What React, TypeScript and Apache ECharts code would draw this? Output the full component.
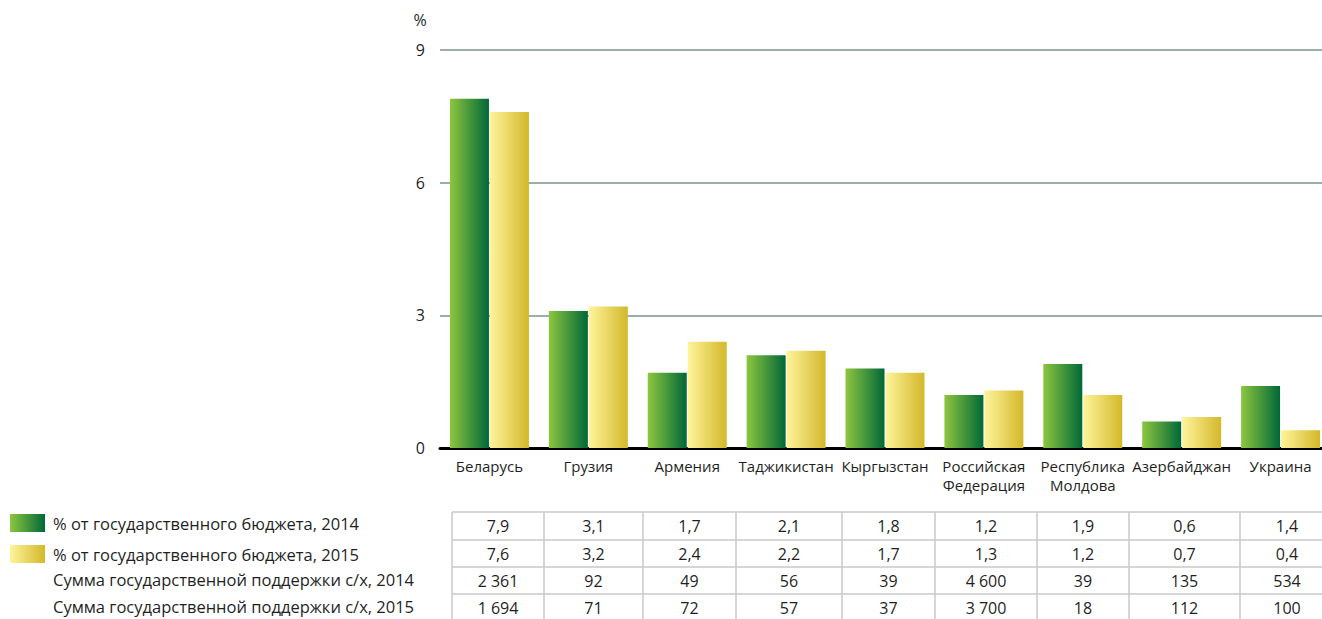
import React, { useEffect, useRef } from "react";
import * as echarts from "echarts";

const countries = [
  "Беларусь",
  "Грузия",
  "Армения",
  "Таджикистан",
  "Кыргызстан",
  "Российская\nФедерация",
  "Республика\nМолдова",
  "Азербайджан",
  "Украина",
];
const pct2014 = [7.9, 3.1, 1.7, 2.1, 1.8, 1.2, 1.9, 0.6, 1.4];
const pct2015 = [7.6, 3.2, 2.4, 2.2, 1.7, 1.3, 1.2, 0.7, 0.4];
const sum2014 = [2361, 92, 49, 56, 39, 4600, 39, 135, 534];
const sum2015 = [1694, 71, 72, 57, 37, 3700, 18, 112, 100];
const yTicks = [0, 3, 6, 9];

const name2014 = "% от государственного бюджета, 2014";
const name2015 = "% от государственного бюджета, 2015";
const nameSum2014 = "Сумма государственной поддержки с/х, 2014";
const nameSum2015 = "Сумма государственной поддержки с/х, 2015";

const FONT = "'Open Sans', 'Noto Sans', sans-serif";
const FS = 16;
const FS_LEG = 16.5;
const FS_X = 15;
const TXT = "#1f1f1f";

const fmtPct = (v: number) => v.toFixed(1).replace(".", ",");
const fmtSum = (v: number) => String(v).replace(/\B(?=(\d{3})+(?!\d))/g, " ");

const greenGrad = {
  type: "linear",
  x: 0,
  y: 0,
  x2: 1,
  y2: 0,
  colorStops: [
    { offset: 0, color: "#8dc63f" },
    { offset: 1, color: "#006838" },
  ],
};
const yellowGrad = {
  type: "linear",
  x: 0,
  y: 0,
  x2: 1,
  y2: 0,
  colorStops: [
    { offset: 0, color: "#fff49b" },
    { offset: 1, color: "#d3b82a" },
  ],
};

// table layout (column edges in px, row tops)
const colEdges = [452, 544, 643, 736, 842, 935, 1037, 1129, 1240, 1334];
const rowTops = [512, 540, 567, 594, 621];

export default function App() {
  const ref = useRef<HTMLDivElement>(null);
  useEffect(() => {
    if (!ref.current) return;
    const chart = echarts.init(ref.current, null, { renderer: "svg" });

    const rows = [
      pct2014.map(fmtPct),
      pct2015.map(fmtPct),
      sum2014.map(fmtSum),
      sum2015.map(fmtSum),
    ];
    const graphic: any[] = [];
    graphic.push({
      type: "text",
      x: 420,
      y: 20,
      style: {
        text: "%",
        font: `${FS}px ${FONT}`,
        fill: TXT,
        align: "center",
        verticalAlign: "middle",
      },
    });
    [nameSum2014, nameSum2015].forEach((t, i) => {
      graphic.push({
        type: "text",
        x: 53,
        y: (rowTops[2 + i] + rowTops[3 + i]) / 2 - 1,
        style: {
          text: t,
          font: `${FS_LEG}px ${FONT}`,
          fill: TXT,
          align: "left",
          verticalAlign: "middle",
        },
      });
    });
    rowTops.forEach((y) => {
      graphic.push({
        type: "line",
        shape: { x1: colEdges[0], y1: y, x2: 1322, y2: y },
        style: { stroke: "#c9c9c9", lineWidth: 1.5 },
      });
    });
    colEdges.forEach((x) => {
      graphic.push({
        type: "line",
        shape: { x1: x, y1: rowTops[0], x2: x, y2: rowTops[rowTops.length - 1] },
        style: { stroke: "#c9c9c9", lineWidth: 1.5 },
      });
    });
    rows.forEach((row, r) => {
      row.forEach((t, c) => {
        graphic.push({
          type: "text",
          x: (colEdges[c] + colEdges[c + 1]) / 2,
          y: (rowTops[r] + rowTops[r + 1]) / 2,
          style: {
            text: t,
            font: `${FS}px ${FONT}`,
            fill: TXT,
            align: "center",
            verticalAlign: "middle",
          },
        });
      });
    });

    chart.setOption({
      animation: false,
      textStyle: { fontFamily: FONT },
      grid: { left: 440, top: 50, right: 0, bottom: 171, containLabel: false },
      legend: {
        orient: "vertical",
        left: 10,
        top: 513,
        padding: 0,
        itemWidth: 35,
        itemHeight: 18,
        itemGap: 11,
        icon: "rect",
        textStyle: {
          fontSize: FS_LEG,
          lineHeight: 18,
          color: TXT,
          fontFamily: FONT,
          padding: [2, 0, 0, 3],
        },
        data: [name2014, name2015],
      },
      xAxis: {
        type: "category",
        data: countries,
        axisLine: { lineStyle: { color: "#000", width: 3 } },
        axisTick: { show: false },
        axisLabel: {
          interval: 0,
          fontSize: FS_X,
          color: TXT,
          lineHeight: 19,
          margin: 8,
          fontFamily: FONT,
        },
      },
      yAxis: {
        type: "value",
        min: yTicks[0],
        max: yTicks[yTicks.length - 1],
        interval: 3,
        axisLine: { show: false },
        axisTick: { show: false },
        axisLabel: { fontSize: FS, color: TXT, margin: 15, fontFamily: FONT },
        splitLine: { lineStyle: { color: "#7b938e", width: 1.5 } },
      },
      series: [
        {
          name: name2014,
          type: "bar",
          data: pct2014,
          barWidth: 39,
          barGap: "2.5%",
          itemStyle: { color: greenGrad },
        },
        {
          name: name2015,
          type: "bar",
          data: pct2015,
          barWidth: 39,
          itemStyle: { color: yellowGrad },
        },
      ],
      graphic,
    });

    return () => chart.dispose();
  }, []);

  return (
    <div
      ref={ref}
      style={{ position: "fixed", left: 0, top: 0, width: 1330, height: 619, background: "#fff" }}
    />
  );
}
